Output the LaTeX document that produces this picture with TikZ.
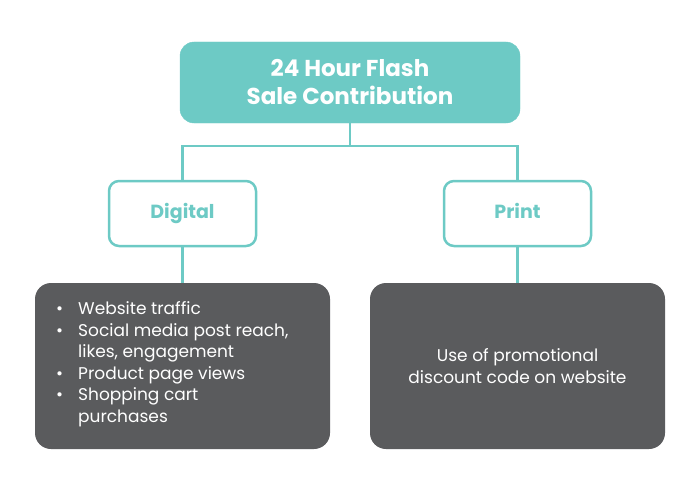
\documentclass[tikz,border=0pt]{standalone}
\usepackage{fontspec}
\setmainfont{Poppins}
\usepackage{xcolor}
\definecolor{tealc}{HTML}{6DCAC5}
\definecolor{darkc}{HTML}{5A5B5D}
\tikzset{
    headbox/.style={fill=tealc, draw=tealc, rounded corners=14pt, text=white, font=\bfseries\fontsize{23}{28}\selectfont, align=center},
    subbox/.style={fill=white, draw=tealc, line width=2.5pt, rounded corners=10pt, text=tealc, font=\bfseries\fontsize{19}{22}\selectfont, text height=14pt, text depth=4pt},
    infobox/.style={fill=darkc, rounded corners=16pt, text=white, font=\fontsize{17}{21}\selectfont},
    link/.style={draw=tealc, line width=2.5pt}
}
\begin{document}
\begin{tikzpicture}[x=1pt, y=-1pt]
        \useasboundingbox (0,0) rectangle (700,503);

        \node [headbox, minimum width=340pt, minimum height=81pt] (head) at (350,82.5) {24 Hour Flash\\Sale Contribution};

        \node [subbox, minimum width=147pt, minimum height=65pt] (digital) at (182.5,213.5) {Digital};
        \node [subbox, minimum width=147pt, minimum height=65pt] (print) at (517.5,213.5) {Print};

        \node [infobox, minimum width=295pt, minimum height=166pt] (digitalinfo) at (182.5,366) {};
        \node [infobox, minimum width=295pt, minimum height=166pt] (printinfo) at (517.5,366) {};

        \node [anchor=west, text=white, font=\fontsize{17}{21.5}\selectfont, inner sep=0pt] (digitallist) at (56,364) {%
            \begin{tabular}{@{}l@{\hspace{15pt}}l@{}}
                \textbullet & Website traffic\\
                \textbullet & Social media post reach,\\
                            & likes, engagement\\
                \textbullet & Product page views\\
                \textbullet & Shopping cart\\
                            & purchases
            \end{tabular}};
        \node [text=white, align=center, font=\fontsize{17}{22}\selectfont] (printtext) at (printinfo) {Use of promotional\\discount code on website};

        \coordinate (split) at (350,146);
        \draw [link] (head.south) -- (split);
        \draw [link] (digital.north) |- (split) -| (print.north);
        \draw [link] (digital.south) -- (digitalinfo.north);
        \draw [link] (print.south) -- (printinfo.north);

    \end{tikzpicture}
\end{document}
